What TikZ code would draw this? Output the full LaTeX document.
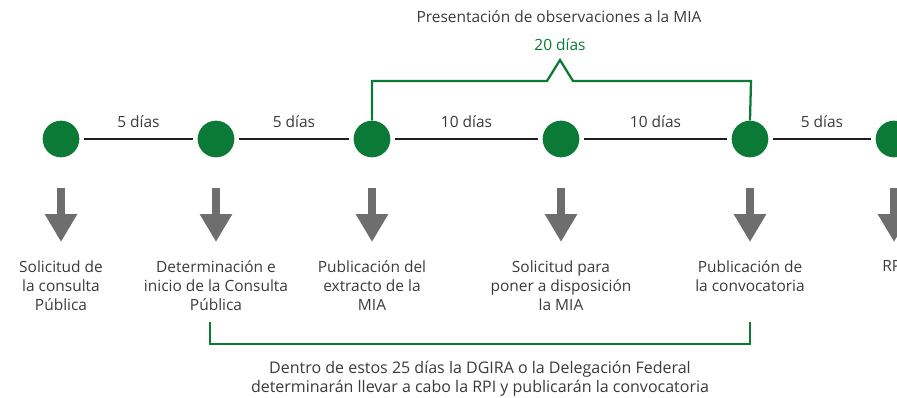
\documentclass[tikz,border=0pt]{standalone}
\usepackage{fontspec}
\setmainfont{Open Sans}
\usetikzlibrary{positioning,arrows.meta}

\definecolor{gobgreen}{HTML}{0A7A36}
\definecolor{txtgray}{HTML}{3A3A3A}
\definecolor{arrgray}{HTML}{6E6E6E}

\begin{document}
\begin{tikzpicture}[x=0.75pt,y=-0.75pt,
		hito/.style={circle,fill=gobgreen,minimum size=27.5pt,inner sep=0pt},
		dias/.style={text=txtgray,font=\fontsize{11.6}{13}\selectfont},
		etiqueta/.style={text=txtgray,align=center,anchor=north,inner sep=0pt,
			font=\fontsize{11.6}{14.25}\selectfont},
		tramo/.style={draw=black!88,line width=2.2pt,shorten <=3.5pt,shorten >=3.5pt},
		llave/.style={draw=gobgreen,line width=1.7pt},
		bajada/.style={draw=arrgray,fill=arrgray,line width=5.5pt,
			-{Triangle[width=23pt,length=21pt]}}
	]
	\useasboundingbox (0,0) rectangle (897,397);
	\clip (0,0) rectangle (897,397);

	% Hitos de la linea de tiempo
	\foreach \x/\n in {61/1,216/2,372/3,561/4,750/5,894/6}{
		\node[hito] (c\n) at (\x,139) {};
		\coordinate (a\n) at (\x,188);
		\coordinate (b\n) at (\x,242);
		\draw[bajada] (a\n) -- (b\n);
	}

	% Tramos entre hitos
	\foreach \i/\j/\d in {1/2/5,2/3/5,3/4/10,4/5/10,5/6/5}{
		\draw[tramo] (c\i) -- (c\j)
			node[dias,midway,yshift=12.75pt] (d\i) {\d\ días};
	}

	% Descripciones
	\node[etiqueta] (t1) at (61,260) {Solicitud de\\la consulta\\Pública};
	\node[etiqueta] (t2) at (216,260) {Determinación e\\inicio de la Consulta\\Pública};
	\node[etiqueta] (t3) at (372,260) {Publicación del\\extracto de la\\MIA};
	\node[etiqueta] (t4) at (561,260) {Solicitud para\\poner a disposición\\la MIA};
	\node[etiqueta] (t5) at (750,260) {Publicación de\\la convocatoria};
	\node[etiqueta] (t6) at (894,260) {RPI};

	% Llave superior
	\coordinate (p1) at (372,81);
	\coordinate (p2) at (547,81);
	\coordinate (pk) at (560,60);
	\coordinate (p3) at (573,81);
	\coordinate (p4) at (751,81);
	\draw[llave] (c3.north) -- (p1) -- (p2) -- (pk) -- (p3) -- (p4) -- (c5.north);
	\node[dias,text=gobgreen] (veinte) at (560,45) {20 días};
	\node[dias] (obs) at (559,17) {Presentación de observaciones a la MIA};

	% Llave inferior
	\coordinate (q1) at (210,322);
	\coordinate (q2) at (210,344);
	\coordinate (q3) at (750,344);
	\coordinate (q4) at (750,322);
	\draw[llave] (q1) -- (q2) -- (q3) -- (q4);
	\node[etiqueta,anchor=center,font=\fontsize{12}{14.5}\selectfont] (nota) at (480,379)
		{Dentro de estos 25 días la DGIRA o la Delegación Federal\\determinarán llevar a cabo la RPI y publicarán la convocatoria};
\end{tikzpicture}
\end{document}
